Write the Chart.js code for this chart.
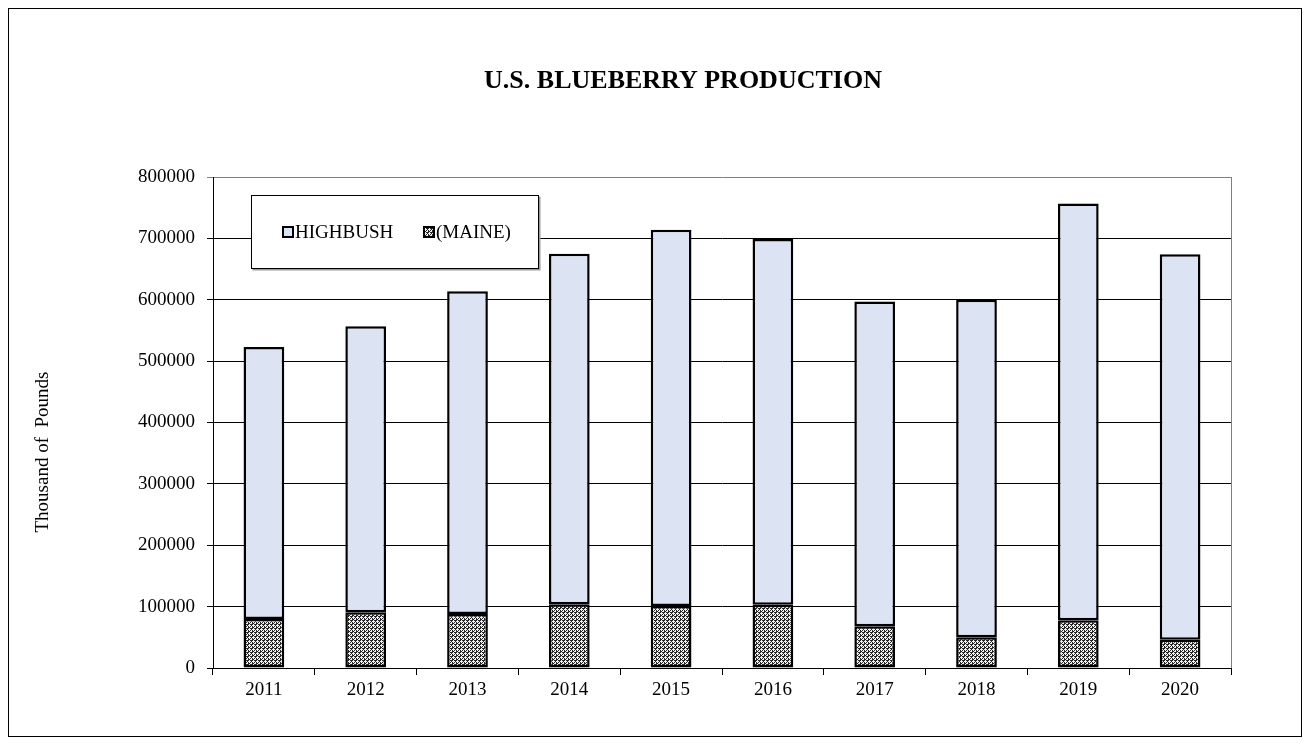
<!DOCTYPE html>
<html>
<head>
<meta charset="utf-8">
<title>U.S. Blueberry Production</title>
<script src="https://cdn.jsdelivr.net/npm/chart.js@4.4.1/dist/chart.umd.min.js"></script>
<style>
  html, body { margin: 0; padding: 0; background: #fff; }
  #wrap { position: relative; width: 1310px; height: 744px; }
</style>
</head>
<body>
<div id="wrap"><canvas id="blueberryChart"></canvas></div>
<script>
// --- DATA (thousand pounds) ---
const years = ['2011', '2012', '2013', '2014', '2015', '2016', '2017', '2018', '2019', '2020'];
const maine = [80000, 91000, 88000, 104000, 101000, 103000, 68000, 50000, 78000, 46000];
const highbush = [443000, 466000, 526000, 571000, 613000, 596000, 529000, 550000, 679000, 628000];
const seriesNames = ['HIGHBUSH', '(MAINE)'];
const yMax = 800000;
const yStep = 100000;

const FONT = '"Liberation Serif", "Times New Roman", serif';
const HIGHBUSH_FILL = '#dce3f3';

// Small tiled pattern for the Maine bars (dark lattice with light specks)
function makeMainePattern() {
    const tile = document.createElement('canvas');
    tile.width = 4;
    tile.height = 4;
    const t = tile.getContext('2d');
    t.fillStyle = '#262626';
    t.fillRect(0, 0, 4, 4);
    t.fillStyle = '#f4f0e4';
    [[1, 0], [0, 1], [1, 1], [2, 1], [1, 2], [3, 3], [2, 3], [3, 2]].forEach(([x, y]) => t.fillRect(x, y, 1, 1));
    return t.createPattern(tile, 'repeat');
}

// --- TITLE, AXIS TITLE, LEGEND AND FRAME ---
const decorPlugin = {
    id: 'decor',
    afterDraw(chart) {
        const ctx = chart.ctx;
        const area = chart.chartArea;
        ctx.save();

        // right edge of the plot area
        ctx.strokeStyle = '#808080';
        ctx.lineWidth = 1;
        ctx.beginPath();
        ctx.moveTo(Math.round(area.right) + 0.5, area.top);
        ctx.lineTo(Math.round(area.right) + 0.5, area.bottom);
        ctx.stroke();

        // outer frame
        ctx.strokeStyle = '#000';
        ctx.strokeRect(8.5, 8.5, 1293, 728);

        // chart title
        ctx.fillStyle = '#000';
        ctx.textAlign = 'center';
        ctx.textBaseline = 'middle';
        ctx.font = 'bold 26px ' + FONT;
        ctx.fillText('U.S. BLUEBERRY PRODUCTION', 683, 81);

        // y axis title
        ctx.save();
        ctx.translate(43, 452);
        ctx.rotate(-Math.PI / 2);
        ctx.font = '19px ' + FONT;
        ctx.fillText('Thousand of  Pounds', 0, 0);
        ctx.restore();

        // legend box
        const box = { x: 251.5, y: 195.5, w: 287, h: 73 };
        ctx.fillStyle = '#9a9a9a';
        ctx.fillRect(box.x + 1, box.y + 1, box.w + 1, box.h + 1);
        ctx.fillStyle = '#fff';
        ctx.fillRect(box.x, box.y, box.w, box.h);
        ctx.strokeStyle = '#000';
        ctx.lineWidth = 1;
        ctx.strokeRect(box.x, box.y, box.w, box.h);

        const items = [
            { x: 283, fill: HIGHBUSH_FILL, label: seriesNames[0] },
            { x: 424, fill: chart.data.datasets[0].backgroundColor, label: seriesNames[1] }
        ];
        ctx.font = '19px ' + FONT;
        ctx.textAlign = 'left';
        items.forEach(item => {
            ctx.fillStyle = item.fill;
            ctx.fillRect(item.x, 227, 10, 10);
            ctx.lineWidth = 2;
            ctx.strokeStyle = '#000';
            ctx.strokeRect(item.x, 227, 10, 10);
            ctx.fillStyle = '#000';
            ctx.fillText(item.label, item.x + 12, 233);
        });

        ctx.restore();
    }
};

document.addEventListener('DOMContentLoaded', function () {
    const canvas = document.getElementById('blueberryChart');
    const ctx = canvas.getContext('2d');
    const mainePattern = makeMainePattern();

    new Chart(ctx, {
        type: 'bar',
        data: {
            labels: years,
            datasets: [
                {
                    label: seriesNames[1],
                    data: maine,
                    backgroundColor: mainePattern,
                    borderColor: '#000',
                    borderWidth: 2.5,
                    borderSkipped: false,
                    barPercentage: 0.4,
                    categoryPercentage: 1.0
                },
                {
                    label: seriesNames[0],
                    data: highbush,
                    backgroundColor: HIGHBUSH_FILL,
                    borderColor: '#000',
                    borderWidth: 2.5,
                    borderSkipped: false,
                    barPercentage: 0.4,
                    categoryPercentage: 1.0
                }
            ]
        },
        options: {
            responsive: true,
            maintainAspectRatio: false,
            animation: false,
            devicePixelRatio: 1,
            layout: { padding: { left: 0, right: 79, top: 177, bottom: 36 } },
            plugins: {
                legend: { display: false },
                title: { display: false },
                tooltip: { enabled: false }
            },
            scales: {
                x: {
                    stacked: true,
                    afterFit: (scale) => { scale.height = 40; },
                    grid: {
                        offset: true,
                        drawOnChartArea: false,
                        drawTicks: true,
                        tickLength: 7,
                        color: '#000'
                    },
                    border: { color: '#000', width: 1 },
                    ticks: {
                        color: '#000',
                        padding: 4,
                        font: { family: FONT, size: 19 }
                    }
                },
                y: {
                    stacked: true,
                    min: 0,
                    max: yMax,
                    afterFit: (scale) => { scale.width = 213; },
                    grid: {
                        color: (c) => (c.tick && c.tick.value === yMax ? '#808080' : '#000'),
                        lineWidth: 1,
                        drawTicks: true,
                        tickLength: 6
                    },
                    border: { color: '#000', width: 1 },
                    ticks: {
                        stepSize: yStep,
                        color: '#000',
                        padding: 12,
                        font: { family: FONT, size: 19 },
                        callback: (v) => String(v)
                    }
                }
            }
        },
        plugins: [decorPlugin]
    });
});
</script>
</body>
</html>
